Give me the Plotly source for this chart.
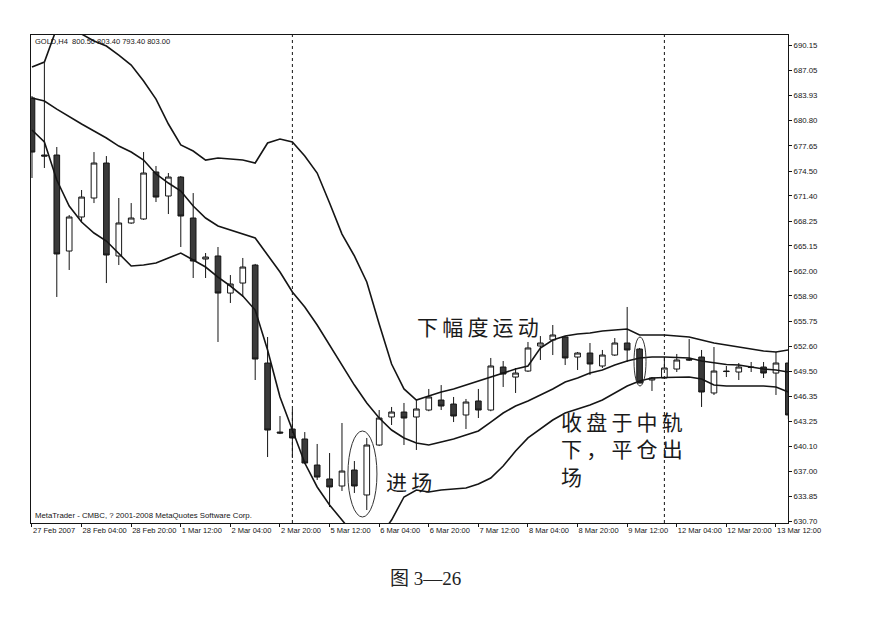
import plotly.graph_objects as go

# H4 gold bars, indexed 0..61 from 27 Feb 2007 12:00
opens = [683.62, 676.50, 676.50, 664.51, 668.76, 671.13, 675.50, 663.89, 668.01, 668.51,
         674.38, 671.38, 673.75, 668.63, 663.51, 663.89, 659.26, 660.51, 662.76, 650.52,
         641.90, 642.28, 641.03, 637.78, 636.04, 635.16, 637.16, 634.04, 640.28, 643.78,
         644.40, 643.78, 644.65, 645.90, 645.40, 644.03, 645.78, 644.65, 650.02, 648.77,
         649.52, 652.65, 653.39, 653.77, 651.27, 651.77, 650.15, 651.52, 653.02, 652.27,
         648.40, 648.65, 649.77, 651.02, 651.27, 646.78, 649.52, 649.40, 650.02, 650.02,
         649.27, 650.52]
highs = [683.87, 687.99, 677.50, 669.01, 672.13, 676.87, 676.37, 671.13, 670.50, 676.87,
         675.13, 674.25, 673.88, 671.75, 664.26, 665.01, 661.51, 663.64, 662.90, 653.77,
         643.90, 644.78, 641.90, 640.41, 639.28, 643.03, 638.28, 641.16, 644.65, 645.03,
         645.53, 645.90, 647.28, 647.77, 646.28, 646.03, 647.28, 651.15, 650.77, 649.90,
         653.15, 653.89, 655.27, 653.89, 651.90, 653.02, 652.15, 653.64, 657.52, 652.40,
         648.77, 651.27, 651.65, 653.52, 652.15, 652.52, 650.15, 650.52, 650.65, 650.65,
         651.90, 650.90]
lows = [673.63, 674.88, 658.77, 662.14, 668.13, 670.50, 660.51, 662.76, 667.90, 668.40,
        670.63, 669.13, 665.01, 661.14, 661.14, 653.15, 658.02, 658.77, 648.40, 638.78,
        641.65, 638.66, 637.90, 635.91, 632.54, 634.54, 634.29, 632.16, 640.15, 642.78,
        640.28, 639.66, 644.50, 644.65, 643.15, 642.28, 643.65, 644.50, 647.53, 646.78,
        649.40, 650.90, 651.52, 650.27, 649.65, 649.02, 649.90, 651.40, 650.65, 648.02,
        647.03, 648.55, 649.40, 650.77, 645.03, 646.53, 648.77, 648.40, 649.40, 648.65,
        646.53, 643.50]
closes = [676.87, 676.37, 664.14, 668.76, 671.25, 675.50, 664.01, 668.01, 668.63, 674.25,
          671.25, 673.75, 668.88, 663.26, 663.76, 659.26, 660.39, 662.51, 651.02, 642.15,
          641.78, 641.16, 638.03, 636.28, 635.04, 637.03, 635.16, 640.28, 643.65, 644.40,
          643.65, 644.78, 646.28, 645.15, 643.90, 645.65, 644.65, 650.15, 649.15, 649.27,
          652.40, 653.02, 654.02, 651.15, 651.77, 650.40, 651.52, 653.02, 652.15, 648.02,
          648.65, 649.90, 650.90, 650.90, 646.90, 649.52, 649.46, 650.02, 649.96, 649.27,
          650.52, 644.03]

# Bollinger Bands (upper / middle / lower) per bar
upper = [687.49, 688.11, 692.36, 693.11, 691.61, 690.74, 690.11, 688.99, 687.74, 685.74,
         683.49, 680.37, 677.75, 677.00, 675.87, 676.12, 676.00, 675.87, 675.50, 678.00,
         678.50, 678.12, 676.37, 674.25, 670.50, 666.63, 663.89, 660.64, 655.39, 650.40,
         647.28, 645.90, 646.40, 646.90, 647.28, 647.77, 648.27, 648.77, 649.27, 649.77,
         650.15, 652.40, 653.39, 653.89, 654.14, 654.27, 654.52, 654.64, 654.77, 654.02,
         654.02, 654.02, 653.89, 653.77, 653.39, 653.02, 652.77, 652.52, 652.27, 652.02,
         651.90, 652.15]
middle = [683.62, 683.24, 682.24, 681.25, 680.37, 679.50, 678.62, 677.62, 676.87, 675.87,
          674.13, 673.00, 672.00, 670.13, 668.63, 667.63, 667.13, 666.63, 666.13, 664.01,
          661.89, 659.39, 657.52, 655.27, 652.77, 650.27, 647.77, 645.53, 643.65, 642.15,
          641.16, 640.53, 640.28, 640.66, 641.03, 641.53, 642.03, 643.15, 644.28, 645.15,
          645.78, 646.53, 647.28, 648.15, 648.65, 649.27, 649.65, 650.27, 650.77, 651.15,
          651.27, 651.27, 651.21, 651.15, 650.77, 650.52, 650.33, 650.27, 650.02, 649.77,
          649.65, 649.40]
lower = [679.62, 678.12, 673.38, 670.13, 668.13, 666.76, 665.76, 664.14, 662.64, 662.76,
         663.01, 663.64, 664.26, 663.39, 662.51, 661.26, 660.14, 658.89, 657.14, 652.15,
         646.28, 642.15, 638.03, 635.04, 632.79, 630.91, 629.04, 628.04, 628.79, 630.91,
         633.79, 634.66, 634.41, 634.66, 634.79, 634.91, 635.41, 636.16, 637.66, 639.53,
         641.16, 642.28, 643.40, 644.28, 644.78, 645.28, 645.90, 646.78, 647.65, 648.27,
         648.65, 648.71, 648.77, 648.77, 648.52, 647.77, 647.65, 647.65, 647.65, 647.65,
         647.53, 646.90]

bars = list(range(len(opens)))

time_tick_bars = [0, 4, 8, 12, 16, 20, 24, 28, 32, 36, 40, 44, 48, 52, 56, 60]
time_tick_labels = ["27 Feb 2007", "28 Feb 04:00", "28 Feb 20:00", "1 Mar 12:00",
                    "2 Mar 04:00", "2 Mar 20:00", "5 Mar 12:00", "6 Mar 04:00",
                    "6 Mar 20:00", "7 Mar 12:00", "8 Mar 04:00", "8 Mar 20:00",
                    "9 Mar 12:00", "12 Mar 04:00", "12 Mar 20:00", "13 Mar 12:00"]
price_ticks = [690.15, 687.05, 683.93, 680.80, 677.65, 674.50, 671.40, 668.25, 665.15,
               662.00, 658.90, 655.75, 652.60, 649.50, 646.35, 643.25, 640.10, 637.00,
               633.85, 630.70]
week_separator_bars = [21, 51]

INK = "#151515"
UI_FONT = "Liberation Sans, Arial, sans-serif"
CJK_FONT = "Noto Sans CJK SC"
GAP = "\u2009"  # thin space between hand-lettered characters

fig = go.Figure()

for band in (upper, middle, lower):
    fig.add_trace(go.Scatter(x=bars, y=band, mode="lines",
                             line=dict(color=INK, width=1.6), hoverinfo="skip",
                             showlegend=False))

fig.add_trace(go.Candlestick(
    x=bars, open=opens, high=highs, low=lows, close=closes,
    increasing=dict(line=dict(color=INK, width=1), fillcolor="#ffffff"),
    decreasing=dict(line=dict(color=INK, width=1), fillcolor="#3a3a3a"),
    whiskerwidth=0, showlegend=False, hoverinfo="skip"))

for b in week_separator_bars:
    fig.add_shape(type="line", xref="x", yref="paper", x0=b, x1=b, y0=0, y1=1,
                  line=dict(color=INK, width=1, dash="dot"))

# circled bars: entry and exit
fig.add_shape(type="circle", xref="x", yref="y", x0=25.48, x1=27.82, y0=631.29, y1=642.03,
              line=dict(color="#333333", width=1))
fig.add_shape(type="circle", xref="x", yref="y", x0=48.55, x1=49.52, y0=647.65, y1=653.77,
              line=dict(color="#333333", width=1))


def spaced(s):
    return GAP.join(s)


cjk = dict(family=CJK_FONT, size=21, color="#1a1a1a")
fig.add_annotation(text=spaced("下幅度运动"), x=31.0, y=655.10, xref="x", yref="y",
                   xanchor="left", yanchor="middle", showarrow=False, font=cjk, borderpad=0)
fig.add_annotation(text=spaced("进场"), x=28.45, y=635.75, xref="x", yref="y",
                   xanchor="left", yanchor="middle", showarrow=False, font=cjk, borderpad=0)
fig.add_annotation(text="<br>".join([spaced("收盘于中轨"), spaced("下，平仓出"), "场"]),
                   x=42.55, y=639.85, xref="x", yref="y", xanchor="left", yanchor="middle",
                   align="left", showarrow=False, font=cjk, borderpad=0)

fig.add_annotation(text="GOLD,H4  800.50 803.40 793.40 803.00", xref="paper", yref="paper",
                   x=0.003, y=0.986, xanchor="left", yanchor="middle", showarrow=False,
                   font=dict(family=UI_FONT, size=7.5, color=INK))
fig.add_annotation(text="MetaTrader - CMBC, ? 2001-2008 MetaQuotes Software Corp.",
                   xref="paper", yref="paper", x=0.003, y=0.016, xanchor="left",
                   yanchor="middle", showarrow=False,
                   font=dict(family=UI_FONT, size=7.8, color=INK))
fig.add_annotation(text="图 3—26", xref="paper", yref="paper", x=0.5205, y=-0.113,
                   xanchor="center", yanchor="middle", showarrow=False,
                   font=dict(family="Liberation Serif, Noto Sans CJK SC", size=19, color="#222222"))

fig.update_layout(
    width=877, height=618,
    margin=dict(l=31, r=89, t=35, b=95),
    paper_bgcolor="#ffffff", plot_bgcolor="#ffffff",
    boxgap=0.35, showlegend=False,
    xaxis=dict(range=[-0.08, 60.97], tickmode="array", tickvals=time_tick_bars,
               ticktext=time_tick_labels, ticks="outside", ticklen=3, tickcolor=INK,
               tickangle=0, ticklabelposition="outside right", showgrid=False,
               zeroline=False, showline=True, linecolor=INK, linewidth=1, mirror=True,
               rangeslider=dict(visible=False),
               tickfont=dict(family=UI_FONT, size=7.5, color=INK)),
    yaxis=dict(range=[630.54, 691.49], side="right", tickmode="array", tickvals=price_ticks,
               ticktext=[f"{v:.2f}" for v in price_ticks], ticks="outside", ticklen=3,
               tickcolor=INK, showgrid=False, zeroline=False, showline=True, linecolor=INK,
               linewidth=1, mirror=True, tickfont=dict(family=UI_FONT, size=7.8, color=INK)),
)

fig.write_html("out.html")
